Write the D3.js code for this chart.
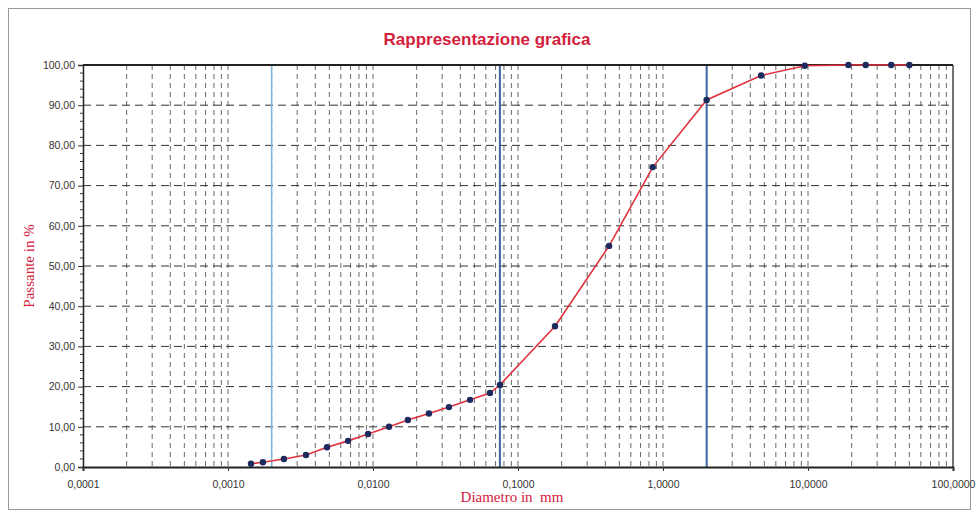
<!DOCTYPE html>
<html>
<head>
<meta charset="utf-8">
<script src="https://cdn.jsdelivr.net/npm/d3@7"></script>
<style>
  body { margin: 0; background: #fff; }
  svg { display: block; }
</style>
</head>
<body>
<div id="chart"></div>
<script>
let w = 977;
let h = 515;

// grain size curve (diameter mm, % passing)
let diameters = [0.00144, 0.00174, 0.00243, 0.00345, 0.00482, 0.00673, 0.00925, 0.0129, 0.0174, 0.0243, 0.0334, 0.0467, 0.0641,
  0.075, 0.18, 0.425, 0.85, 2, 4.75, 9.5, 19, 25, 37.5, 50];
let passing = [0.8, 1.2, 2.0, 3.0, 4.9, 6.5, 8.2, 10.0, 11.7, 13.3, 14.9, 16.7, 18.4,
  20.4, 35.0, 55.0, 74.6, 91.3, 97.4, 99.8, 100, 100, 100, 100];
let limits = [0.002, 0.075, 2];
let xTicks = [0.0001, 0.001, 0.01, 0.1, 1, 10, 100];
let yTicks = [0, 10, 20, 30, 40, 50, 60, 70, 80, 90, 100];

let mLeft = 83, mRight = 953, mTop = 65, mBottom = 467;

let svg = d3.select("#chart").append("svg")
  .attr("width", w).attr("height", h);

// outer frame
svg.append("rect")
  .attr("x", 8.5).attr("y", 8.5).attr("width", 962).attr("height", 501)
  .attr("fill", "none").attr("stroke", "#999").attr("stroke-width", 1);

let x = d3.scaleLog().domain([0.0001, 100]).range([mLeft, mRight]);
let y = d3.scaleLinear().domain([0, 100]).range([mBottom, mTop]);

// minor log grid
let minor = [];
for (let e = -4; e < 2; e++) {
  for (let k = 1; k <= 9; k++) minor.push(k * Math.pow(10, e));
}

svg.append("g").selectAll("line").data(minor.filter(d => d > 0.0001 && d < 100)).join("line")
  .attr("x1", d => x(d)).attr("x2", d => x(d))
  .attr("y1", mTop).attr("y2", mBottom)
  .attr("stroke", "#444").attr("stroke-width", 0.8)
  .attr("stroke-dasharray", "5,4");

svg.append("g").selectAll("line").data(yTicks.filter(d => d > 0 && d < 100)).join("line")
  .attr("x1", mLeft).attr("x2", mRight)
  .attr("y1", d => y(d)).attr("y2", d => y(d))
  .attr("stroke", "#333").attr("stroke-width", 1)
  .attr("stroke-dasharray", "8,5");

// limit lines
svg.append("g").selectAll("line").data(limits).join("line")
  .attr("x1", d => x(d)).attr("x2", d => x(d))
  .attr("y1", mTop).attr("y2", mBottom)
  .attr("stroke", (d, i) => i == 0 ? "#7fb3d9" : "#3d64a0")
  .attr("stroke-width", (d, i) => i == 0 ? 1.5 : 2);

// frame of the plot
svg.append("line").attr("x1", mLeft).attr("x2", mRight).attr("y1", mTop).attr("y2", mTop)
  .attr("stroke", "#222").attr("stroke-width", 2);
svg.append("line").attr("x1", mRight).attr("x2", mRight).attr("y1", mTop).attr("y2", mBottom)
  .attr("stroke", "#444").attr("stroke-width", 1.5);

// axes
let yAxis = d3.axisLeft(y).tickValues(yTicks).tickSize(5)
  .tickFormat(d => d3.format(".2f")(d).replace(".", ","));
let gy = svg.append("g").attr("transform", "translate(" + mLeft + ",0)").call(yAxis);
gy.select(".domain").attr("stroke", "#222").attr("stroke-width", 1.5);

// minor y ticks every 2
svg.append("g").selectAll("line").data(d3.range(2, 100, 2).filter(d => d % 10 != 0)).join("line")
  .attr("x1", mLeft - 3).attr("x2", mLeft)
  .attr("y1", d => y(d)).attr("y2", d => y(d))
  .attr("stroke", "#333");

let xAxis = d3.axisBottom(x).tickValues(xTicks).tickSize(4)
  .tickFormat(d => d3.format(".4f")(d).replace(".", ","));
let gx = svg.append("g").attr("transform", "translate(0," + mBottom + ")").call(xAxis);
gx.select(".domain").attr("stroke", "#222").attr("stroke-width", 2);
gx.selectAll(".tick text").attr("dy", "1.3em");

svg.selectAll(".tick text")
  .attr("font-family", "Liberation Sans, Arial, sans-serif")
  .attr("font-size", "10.5px").attr("fill", "#333");
svg.selectAll(".tick line").attr("stroke", "#333");

// curve
let pts = diameters.map((d, i) => [d, passing[i]]);
svg.append("path").datum(pts)
  .attr("fill", "none").attr("stroke", "#e0323c").attr("stroke-width", 1.6)
  .attr("d", d3.line().x(d => x(d[0])).y(d => y(d[1])));

svg.append("g").selectAll("circle").data(pts).join("circle")
  .attr("cx", d => x(d[0])).attr("cy", d => y(d[1])).attr("r", 3.2)
  .attr("fill", "#1c2a5e");

// titles
svg.append("text")
  .attr("x", 487).attr("y", 45)
  .attr("text-anchor", "middle")
  .attr("font-family", "Liberation Sans, Arial, sans-serif")
  .attr("font-weight", "bold").attr("font-size", "17px")
  .attr("fill", "#d3213c")
  .text("Rappresentazione grafica");

svg.append("text")
  .attr("transform", "translate(34," + ((mTop + mBottom) / 2) + ") rotate(-90)")
  .attr("text-anchor", "middle")
  .attr("font-family", "Liberation Serif, Times New Roman, serif")
  .attr("font-size", "15px").attr("fill", "#d3213c")
  .text("Passante  in  %");

svg.append("text")
  .attr("x", 512).attr("y", 502)
  .attr("text-anchor", "middle")
  .attr("font-family", "Liberation Serif, Times New Roman, serif")
  .attr("font-size", "15px").attr("fill", "#d3213c")
  .attr("xml:space", "preserve")
  .text("Diametro in  mm");
</script>
</body>
</html>
